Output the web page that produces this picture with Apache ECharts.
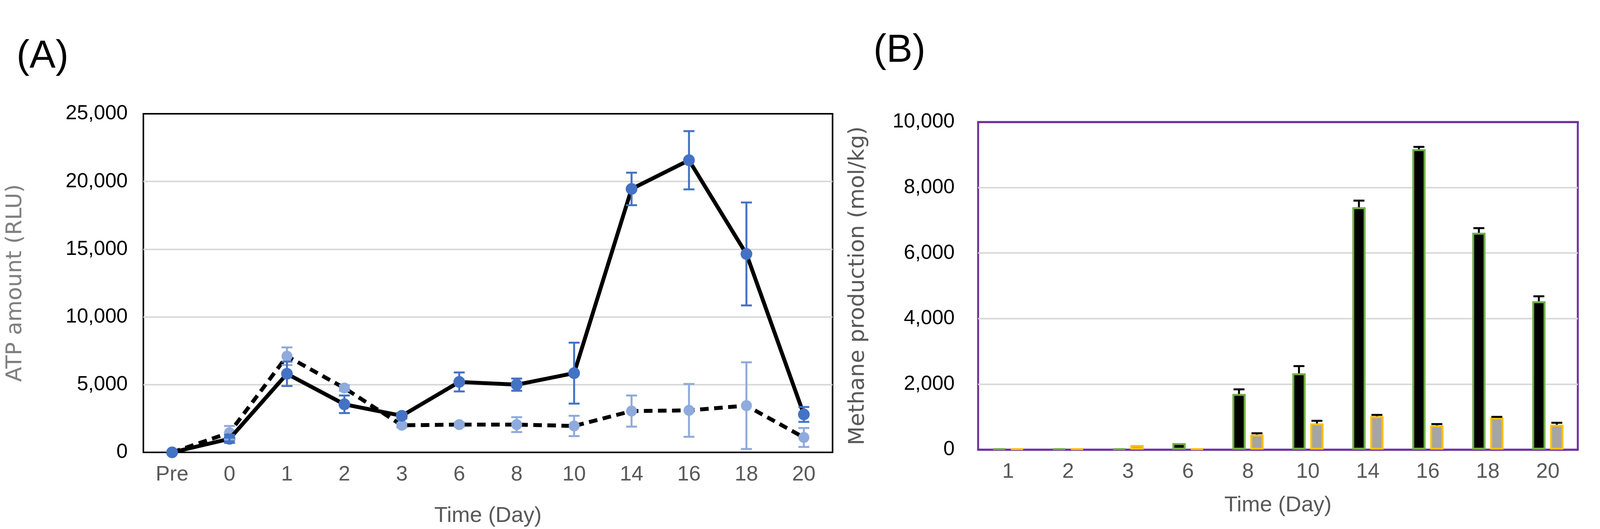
<!DOCTYPE html>
<html><head><meta charset="utf-8">
<script src="https://cdn.jsdelivr.net/npm/echarts@6/dist/echarts.min.js"></script>
<style>html,body{margin:0;padding:0;background:#fff;overflow:hidden}#c{width:100vw;height:100vh}</style>
</head><body><div id="c"></div>
<script>
// Panel A data
const catsA = ['Pre','0','1','2','3','6','8','10','14','16','18','20'];
const solidA = [0,1000,5800,3550,2700,5200,5000,5850,19450,21570,14650,2800];
const solidErrA = [100,300,900,650,200,700,450,2250,1200,2150,3800,550];
const dashA = [0,1450,7100,4750,2000,2050,2050,1950,3050,3100,3450,1100];
const dashErrA = [100,500,650,200,150,150,550,750,1150,1950,3200,700];
// Panel B data
const catsB = ['1','2','3','6','8','10','14','16','18','20'];
const blackB = [30,30,30,200,1700,2330,7400,9170,6620,4530];
const blackErrB = [0,0,0,0,140,220,200,70,140,150];
const grayB = [30,30,140,30,460,800,1020,740,980,760];
const grayErrB = [0,0,0,0,40,80,40,40,20,60];

const narrow = '"Liberation Sans Narrow","Arial Narrow","Liberation Sans",sans-serif';
const wide = '"DejaVu Sans",sans-serif';
const W = 4397, H = 1353;
const px = v => (v / W * 100) + '%';
const py = v => (v / H * 100) + '%';

function errSeries(name, xi, yi, vals, errs, color, both, offset, capW, lw){
  return {type:'custom', name, xAxisIndex:xi, yAxisIndex:yi, z:5,
    data: vals.map((v,i)=>[i, v, errs[i]]),
    renderItem:(params, api)=>{
      const i=api.value(0), v=api.value(1), e=api.value(2);
      if(!e) return null;
      const hi=api.coord([i, v+e]); const lo=api.coord([i, both? v-e : v]);
      const x=hi[0]+offset;
      const st={stroke:color, lineWidth:lw};
      const ch=[{type:'line',shape:{x1:x,y1:hi[1],x2:x,y2:lo[1]},style:st},
                {type:'line',shape:{x1:x-capW,y1:hi[1],x2:x+capW,y2:hi[1]},style:st}];
      if(both) ch.push({type:'line',shape:{x1:x-capW,y1:lo[1],x2:x+capW,y2:lo[1]},style:st});
      return {type:'group',children:ch};
    }};
}

const chart = echarts.init(document.getElementById('c'));
chart.setOption({
  animation:false,
  title:[
    {text:'(A)',left:px(40),top:py(90),textStyle:{fontSize:100,fontWeight:'normal',fontFamily:'"Liberation Sans",sans-serif',color:'#000'}},
    {text:'(B)',left:px(2395),top:py(75),textStyle:{fontSize:100,fontWeight:'normal',fontFamily:'"Liberation Sans",sans-serif',color:'#000'}}
  ],
  grid:[
    {left:px(394),width:px(1894),top:py(291),height:py(870),show:true,borderColor:'#000',borderWidth:4,backgroundColor:'transparent'},
    {left:px(2688),width:px(1648),top:py(312),height:py(838),show:true,borderColor:'#7030A0',borderWidth:5,backgroundColor:'transparent'}
  ],
  xAxis:[
    {type:'category',gridIndex:0,data:catsA,boundaryGap:true,axisTick:{show:false},
     axisLine:{lineStyle:{color:'#000',width:4}},
     axisLabel:{fontSize:54,color:'#595959',fontFamily:narrow,margin:30},
     name:'Time (Day)',nameLocation:'middle',nameGap:135,nameTextStyle:{fontSize:56,color:'#595959',fontFamily:narrow}},
    {type:'category',gridIndex:1,data:catsB,boundaryGap:true,axisTick:{show:false},
     axisLine:{lineStyle:{color:'#7030A0',width:5}},
     axisLabel:{fontSize:54,color:'#595959',fontFamily:narrow,margin:30},
     name:'Time (Day)',nameLocation:'middle',nameGap:115,nameTextStyle:{fontSize:56,color:'#595959',fontFamily:narrow}},
    {type:'category',gridIndex:0,data:catsA,position:'top',axisTick:{show:false},axisLabel:{show:false},
     axisLine:{lineStyle:{color:'#000',width:4}},z:10},
    {type:'category',gridIndex:1,data:catsB,position:'top',axisTick:{show:false},axisLabel:{show:false},
     axisLine:{lineStyle:{color:'#7030A0',width:5}},z:10}
  ],
  yAxis:[
    {type:'value',gridIndex:0,min:0,max:25000,interval:5000,
     splitLine:{lineStyle:{color:'#D9D9D9',width:4}},axisLine:{show:false},axisTick:{show:false},
     axisLabel:{fontSize:52,color:'#000',fontFamily:narrow,margin:40,formatter:v=>v.toLocaleString('en-US')},
     name:'ATP amount (RLU)',nameLocation:'middle',nameGap:300,nameTextStyle:{fontSize:56,color:'#7F7F7F',fontFamily:wide}},
    {type:'value',gridIndex:1,min:0,max:10000,interval:2000,
     splitLine:{lineStyle:{color:'#D9D9D9',width:4}},axisLine:{show:false},axisTick:{show:false},
     axisLabel:{fontSize:52,color:'#000',fontFamily:narrow,margin:60,formatter:v=>v.toLocaleString('en-US')},
     name:'Methane production (mol/kg)',nameLocation:'middle',nameGap:280,nameTextStyle:{fontSize:56,color:'#595959',fontFamily:wide}}
  ],
  series:[
    {type:'line',xAxisIndex:0,yAxisIndex:0,data:dashA,z:3,symbol:'circle',symbolSize:28,
     lineStyle:{color:'#000',width:10,type:[22,14]},itemStyle:{color:'#8FAADC',borderWidth:0}},
    errSeries('ed',0,0,dashA,dashErrA,'#8FAADC',true,0,14,5),
    {type:'line',xAxisIndex:0,yAxisIndex:0,data:solidA,z:4,symbol:'circle',symbolSize:30,
     lineStyle:{color:'#000',width:10},itemStyle:{color:'#4472C4',borderWidth:0}},
    errSeries('es',0,0,solidA,solidErrA,'#4472C4',true,0,14,5),
    {type:'bar',xAxisIndex:1,yAxisIndex:1,data:blackB,barWidth:34,barGap:'35%',
     itemStyle:{color:'#000',borderColor:'#70AD47',borderWidth:5}},
    {type:'bar',xAxisIndex:1,yAxisIndex:1,data:grayB,barWidth:34,
     itemStyle:{color:'#A5A5A5',borderColor:'#FFC000',borderWidth:5}},
    errSeries('eb',1,1,blackB,blackErrB,'#000',false,-23,14,5),
    errSeries('eg',1,1,grayB,grayErrB,'#000',false,23,14,5)
  ]
});
window.addEventListener('resize',()=>chart.resize());
</script></body></html>
